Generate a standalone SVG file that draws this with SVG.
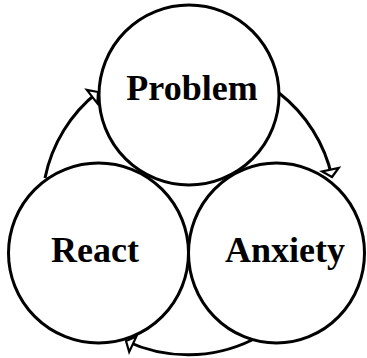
<svg xmlns="http://www.w3.org/2000/svg" width="367" height="358" viewBox="0 0 367 358">
<style>
.node{fill:#fff;stroke:#000;stroke-width:3}
.lbl{font-family:"Liberation Serif","Times New Roman",serif;font-weight:bold;font-size:36px;fill:#000;text-anchor:middle}
.conn{fill:none;stroke:#000;stroke-width:3;marker-end:url(#ah)}
</style>
<defs>
<marker id="ah" markerUnits="userSpaceOnUse" markerWidth="24" markerHeight="24" viewBox="-12 -12 24 24" refX="0" refY="0" orient="auto" overflow="visible">
<path d="M0,0 L-7.5,-8.5 L-7.5,8.5 Z" fill="#fff" stroke="#000" stroke-width="2.2" stroke-linejoin="miter"/>
</marker>
</defs>
<rect width="367" height="358" fill="#fff"/>
<g id="problem">
<circle class="node" cx="189" cy="95" r="90"/>
<text class="lbl" x="192" y="100">Problem</text>
</g>
<g id="react">
<circle class="node" cx="98.5" cy="253" r="90"/>
<text class="lbl" x="95" y="262">React</text>
</g>
<g id="anxiety">
<ellipse class="node" cx="276.5" cy="253" rx="88" ry="90"/>
<text class="lbl" x="285" y="262">Anxiety</text>
</g>
<g id="connectors">
<path class="conn" d="M45,178 A146,146 0 0 1 98,92"/>
<path class="conn" d="M279,93 A146,146 0 0 1 332,177"/>
<path class="conn" d="M252,340 A146,146 0 0 1 126,341"/>
</g>
</svg>
